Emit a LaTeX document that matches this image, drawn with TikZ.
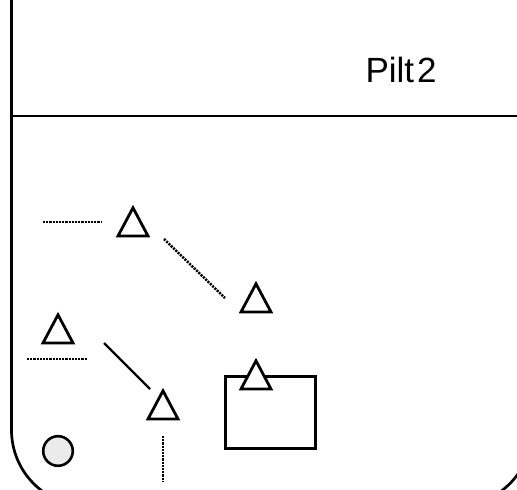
\documentclass[tikz,border=0pt]{standalone}
\usepackage{fontspec}
\setmainfont{Liberation Sans}
\newcommand\mytitlefont{\fontsize{35}{40}\selectfont\spaceskip=3pt\relax}
\begin{document}
\begin{tikzpicture}[x=1pt,y=-1pt,
  frame/.style={line width=2.7pt},
  dots/.style={line width=2.5pt,dash pattern=on 2.1pt off 1.1pt},
  tri/.pic={\draw[line width=2.8pt,fill=white,line join=miter] (-15,31)--(0,2.8)--(15,31)--cycle;}]
\definecolor{cfill}{HTML}{EBEBEC}
\useasboundingbox (0,0) rectangle (517,490);
\clip (0,0) rectangle (517,490);
% frame
\draw[frame] (11.5,-5) -- (11.5,430) arc[start angle=180,end angle=90,radius=76] -- (456,506) arc[start angle=90,end angle=0,radius=76] -- (532,-5);
\draw[frame] (11.5,116) -- (520,116);
\node[anchor=base west,inner sep=0,font=\mytitlefont] (title) at (365.3,82) {Pilt 2};
% dotted lines
\draw[dots] (43,222) -- (102,222);
\draw[dots] (164,239) -- (225,298);
\draw[dots] (27,359) -- (87,359);
\draw[dots] (163,436) -- (163,482);
\draw[line width=2.4pt] (104,343) -- (150,389);
% rectangle
\draw[line width=2.8pt] (225.2,376.2) rectangle (315.8,448.8);
% circle
\draw[line width=2.6pt,fill=cfill] (58,451) circle[radius=14.8];
% triangles
\pic at (133,205) {tri};
\pic at (256,281) {tri};
\pic at (58,312) {tri};
\pic at (163,388) {tri};
\pic at (256,358) {tri};
\end{tikzpicture}
\end{document}
